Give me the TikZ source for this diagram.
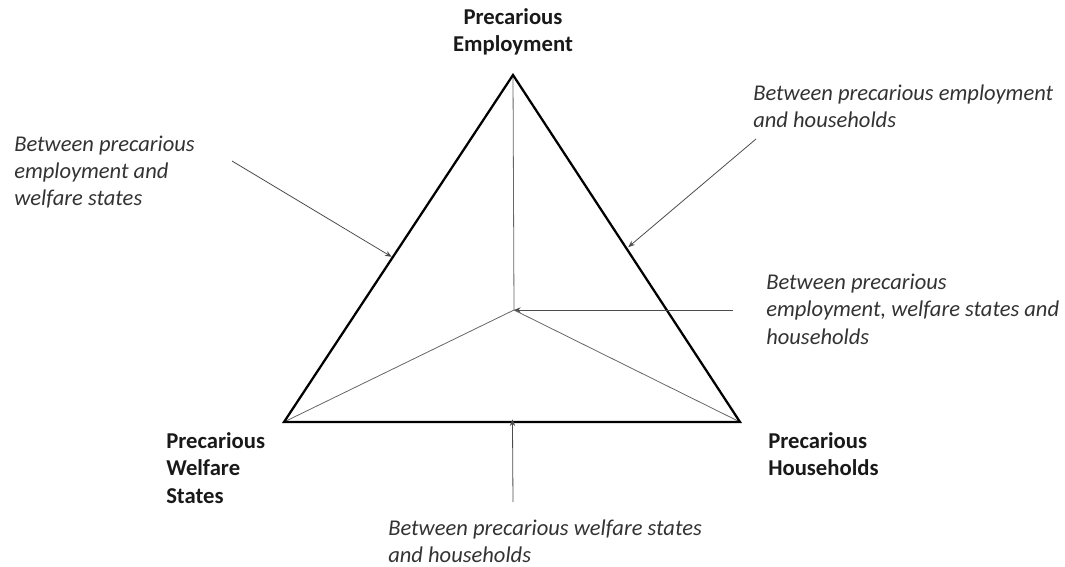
\documentclass[tikz,border=0pt]{standalone}
\usepackage{fontspec}
\setmainfont{Carlito}
\usetikzlibrary{calc,arrows.meta}
\tikzset{
  lbl/.style={inner sep=0pt, align=left, anchor=west, font=\fontsize{16.9}{20.5}\selectfont\itshape, text=black!80},
  vtx/.style={inner sep=0pt, align=left, font=\fontsize{17}{20.5}\selectfont\bfseries, text=black!90},
  tri/.style={line width=1.7pt, line join=miter},
  spoke/.style={line width=0.6pt, draw=black!60},
  ptr/.style={line width=0.6pt, draw=black!70, -{Stealth[length=5pt,width=4pt]}}
}
\begin{document}
\begin{tikzpicture}[x=0.75pt,y=-0.75pt]
\useasboundingbox (0,0) rectangle (1065,567);
\coordinate (A) at (513,75);
\coordinate (BL) at (284,422);
\coordinate (BR) at (740,422);
\coordinate (C) at (514,310);
% spokes
\draw[spoke] (A) -- (C);
\draw[spoke] (BL) -- (C);
\draw[spoke] (BR) -- (C);
% triangle
\draw[tri] (A) -- (BR) -- (BL) -- cycle;
% vertex labels
\node[vtx, align=center] (pe) at (513,32) {Precarious\\Employment};
\node[vtx, anchor=west] (pw) at (166,468) {Precarious\\Welfare\\States};
\node[vtx, anchor=west] (ph) at (768,454) {Precarious\\Households};
% relation labels
\node[lbl] (l1) at (14,172) {Between precarious\\employment and\\welfare states};
\node[lbl] (l2) at (753,106) {Between precarious employment\\and households};
\node[lbl] (l3) at (766,309) {Between precarious\\employment, welfare states and\\households};
\node[lbl] (l4) at (388,541) {Between precarious welfare states\\and households};
% arrow anchors
\coordinate (s1) at (232,161);
\coordinate (e1) at ($(BL)!0.476!(A)$);
\coordinate (s2) at (756,139);
\coordinate (e2) at ($(BR)!0.504!(A)$);
\coordinate (s3) at (733,310);
\coordinate (s4) at (513,502);
\coordinate (e4) at ($(BL)!0.501!(BR)$);
\draw[ptr] (s1) -- ([xshift=-1pt]e1);
\draw[ptr] (s2) -- ([xshift=2pt]e2);
\draw[ptr] (s3) -- (C);
\draw[ptr] (s4) -- ([yshift=2pt]e4);
\end{tikzpicture}
\end{document}
